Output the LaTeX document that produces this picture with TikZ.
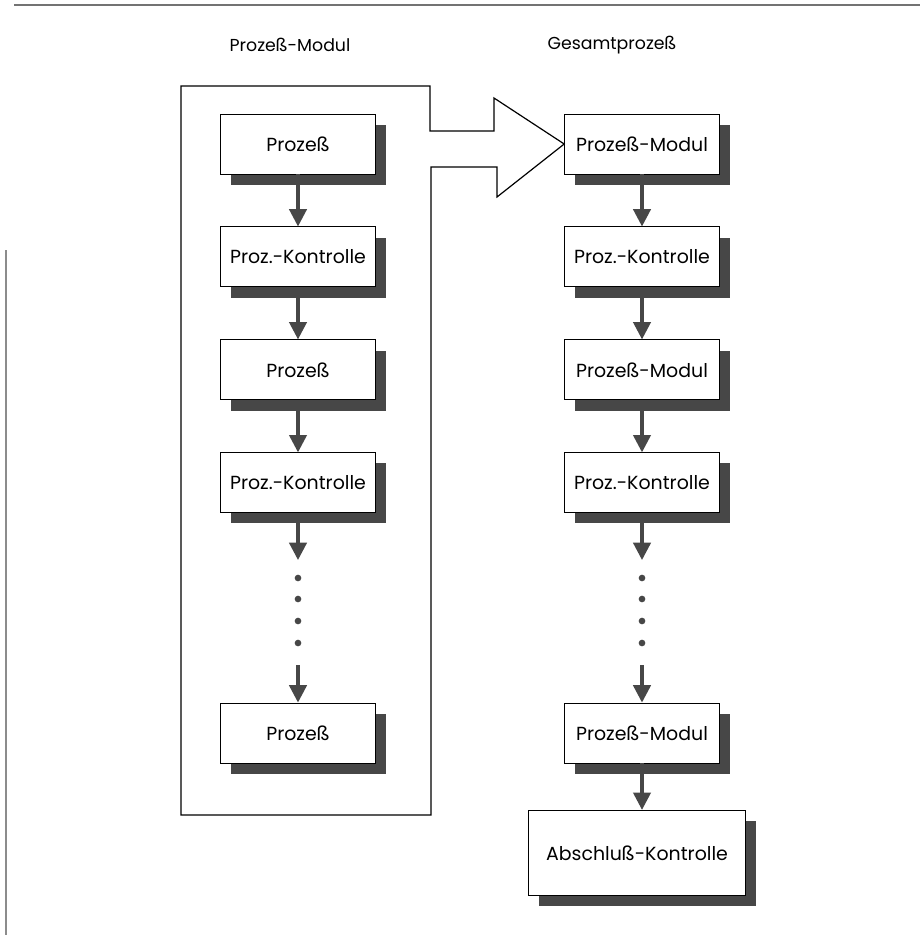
\documentclass[tikz,border=0pt]{standalone}
\usepackage{fontspec}
\setmainfont{Poppins}
\usepackage{tikz}
\usetikzlibrary{arrows.meta, positioning, shadows}

\begin{document}
\begin{tikzpicture}[x=0.75pt, y=-0.75pt,
    stufe/.style={draw, line width=0.7pt, fill=white, minimum width=116pt, minimum height=45pt,
                  inner sep=1pt, align=center, font=\fontsize{14.2}{16}\selectfont,
                  drop shadow={shadow xshift=8pt, shadow yshift=-8pt, fill=black!72, opacity=1}},
    pfeil/.style={draw=black!72, line width=2.4pt, -{Triangle[width=13pt,length=13pt]}},
    punkt/.style={circle, fill=black!72, inner sep=0pt, minimum size=5pt},
    titel/.style={font=\fontsize{13}{15}\selectfont},
    node distance=39pt
]
\useasboundingbox (0,0) rectangle (920,935);
% Seitenrand
\draw[black!55, line width=0.8pt] (14,5) -- (920,5);
\draw[black!45, line width=0.8pt] (6,250) -- (6,935);

\node[titel] (tmodul) at (290,45) {Prozeß-Modul};
\node[titel] (tgesamt) at (612,45) {Gesamtprozeß};

% linke Spalte
\node[stufe] (p1) at (298,144) {Prozeß};
\node[stufe, below=of p1] (k1) {Proz.-Kontrolle};
\node[stufe, below=of k1] (p2) {Prozeß};
\node[stufe, below=of p2] (k2) {Proz.-Kontrolle};
\node[stufe] (p3) at (298,733) {Prozeß};
\coordinate (lende) at (298,560);
\coordinate (lanf) at (298,665);

% rechte Spalte
\node[stufe] (m1) at (642,144) {Prozeß-Modul};
\node[stufe, below=of m1] (k3) {Proz.-Kontrolle};
\node[stufe, below=of k3] (m2) {Prozeß-Modul};
\node[stufe, below=of m2] (k4) {Proz.-Kontrolle};
\node[stufe] (m3) at (642,733) {Prozeß-Modul};
\node[stufe, minimum width=163pt, minimum height=64pt] (ab) at (637,853) {Abschluß-Kontrolle};
\coordinate (rende) at (642,560);
\coordinate (ranf) at (642,665);

% Rahmen mit Blockpfeil
\draw[line width=0.9pt] (181,86) -- (430,86) -- (430,131) -- (494,131) -- (494,98)
    -- (m1.west) -- (497,197) -- (497,167) -- (431,167) -- (431,815) -- (181,815) -- cycle;

\draw[pfeil] (p1) -- (k1);
\draw[pfeil] (k1) -- (p2);
\draw[pfeil] (p2) -- (k2);
\draw[pfeil] (k2) -- (lende);
\draw[pfeil] (lanf) -- (p3);
\draw[pfeil] (m1) -- (k3);
\draw[pfeil] (k3) -- (m2);
\draw[pfeil] (m2) -- (k4);
\draw[pfeil] (k4) -- (rende);
\draw[pfeil] (ranf) -- (m3);
\draw[pfeil] (m3.south) -- (m3.south |- ab.north);

\foreach \y in {578,599,621,643} {
    \node[punkt] at (298,\y) {};
    \node[punkt] at (642,\y) {};
}
\end{tikzpicture}
\end{document}
